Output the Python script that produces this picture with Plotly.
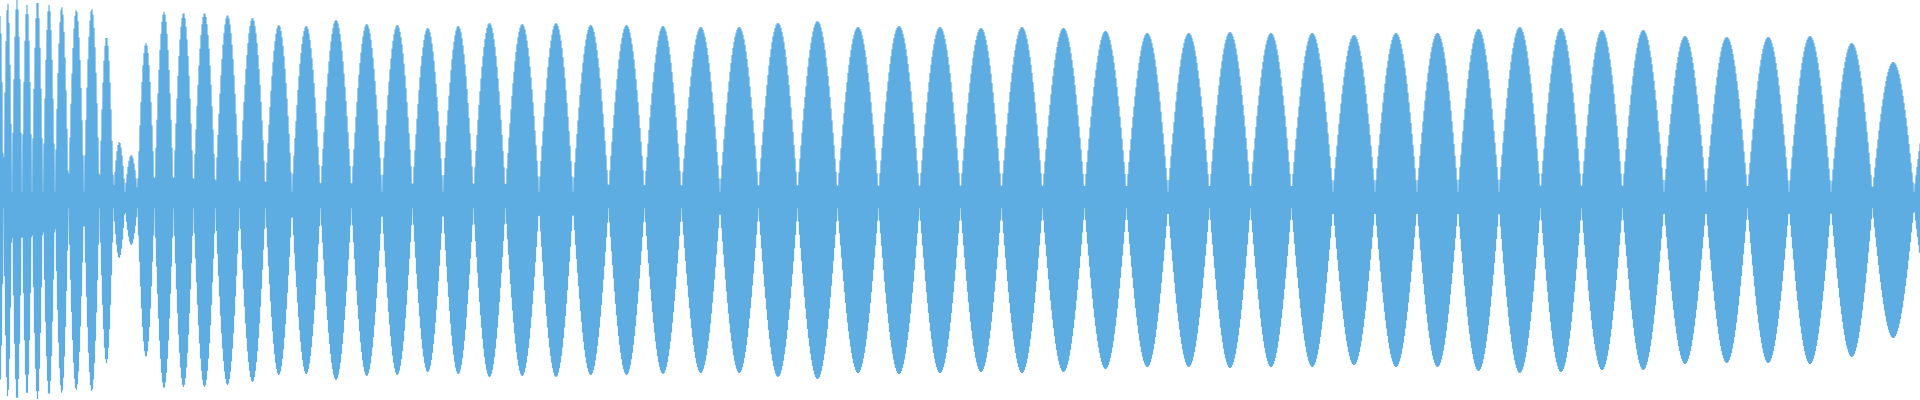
import numpy as np
import plotly.graph_objects as go

# Lobe (beat) centres along the time axis (pixel-like units)
lobe_centers = [0, 7, 17, 27, 37, 49, 61, 76, 92, 107, 120, 130, 145, 164, 183, 204,
                227, 252, 279, 305, 336, 367, 397, 428, 458, 489, 522, 556, 590, 627,
                662, 701, 739, 778, 817, 858, 899, 940, 981, 1022, 1063, 1106, 1147,
                1189, 1230, 1271, 1312, 1354, 1396, 1438, 1478, 1520, 1561, 1602, 1643,
                1685, 1727, 1768, 1810, 1852, 1893, 1935]
# Peak amplitude of each lobe (normalised, full scale = 1)
lobe_peaks = [0.92, 0.985, 1.0, 0.975, 0.995, 0.975, 0.965, 0.95, 0.955, 0.815, 0.29,
              0.225, 0.785, 0.94, 0.935, 0.935, 0.925, 0.91, 0.875, 0.87, 0.90, 0.88,
              0.875, 0.86, 0.87, 0.885, 0.88, 0.885, 0.875, 0.875, 0.87, 0.865, 0.865,
              0.885, 0.895, 0.865, 0.87, 0.865, 0.86, 0.865, 0.86, 0.845, 0.835, 0.835,
              0.84, 0.835, 0.835, 0.825, 0.835, 0.835, 0.855, 0.865, 0.86, 0.85, 0.85,
              0.82, 0.815, 0.815, 0.82, 0.785, 0.69, 0.6]
floor_level = 0.04  # residual amplitude between beats

c = np.array(lobe_centers, dtype=float)
a = np.array(lobe_peaks, dtype=float)
mids = (c[:-1] + c[1:]) / 2
bounds = np.concatenate([[c[0] - (c[1] - c[0]) / 2], mids, [c[-1] + (c[-1] - c[-2]) / 2]])

t = np.arange(0, 1920.5, 0.5)
idx = np.clip(np.searchsorted(bounds, t, side="right") - 1, 0, len(c) - 1)
lo, hi = bounds[idx], bounds[idx + 1]
env = floor_level + (a[idx] - floor_level) * np.abs(np.sin(np.pi * (t - lo) / (hi - lo)))
sign = np.where(np.arange(len(t)) % 2 == 0, 1.0, -1.0)
y = env * sign

fig = go.Figure(go.Scatter(x=t, y=y, mode="lines",
                           line=dict(color="#5DADE2", width=1.2),
                           hoverinfo="skip", showlegend=False))
fig.update_layout(width=1920, height=400, margin=dict(l=0, r=0, t=0, b=0),
                  paper_bgcolor="white", plot_bgcolor="white",
                  xaxis=dict(visible=False, range=[0, 1920]),
                  yaxis=dict(visible=False, range=[-1.0, 1.0]))
fig.write_html("out.html", config={"displayModeBar": False},
               post_script="document.body.style.margin='0';document.body.style.overflow='hidden';")
